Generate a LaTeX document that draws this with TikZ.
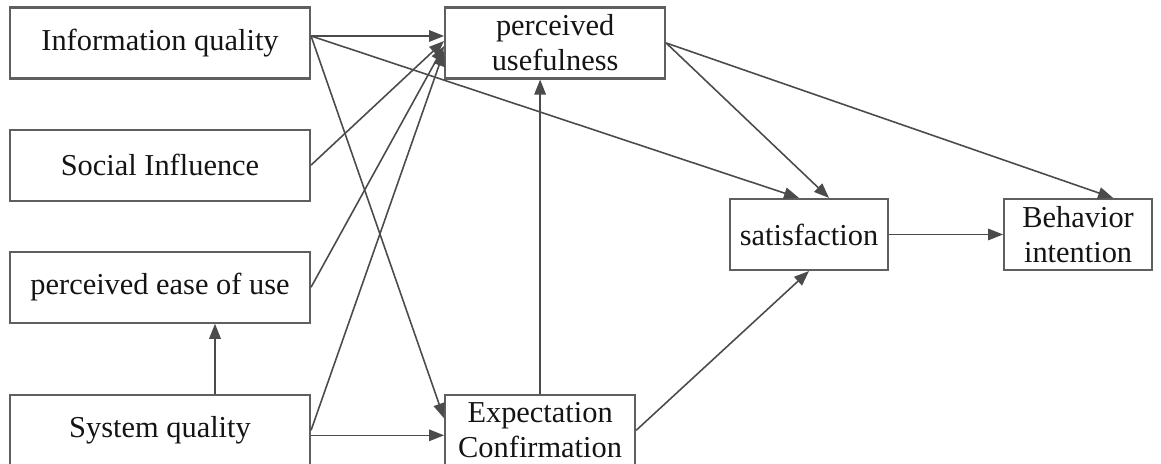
\documentclass[tikz,border=0pt]{standalone}
\usepackage{fontspec}
\setmainfont{Liberation Serif}
\usepackage{tikz}
\usetikzlibrary{arrows.meta, positioning, calc}
\usepackage{xcolor}
\definecolor{frame}{RGB}{95,95,95}
\definecolor{link}{RGB}{75,75,75}
\definecolor{ink}{RGB}{20,20,20}

\begin{document}
\begin{tikzpicture}[
    node distance=1cm,
    box/.style={rectangle, minimum height=1.42cm, inner sep=2pt, align=center, text=ink, font=\fontsize{17.3}{20}\selectfont, draw=frame, line width=1.2pt},
    arr/.style={-{Triangle[length=3mm, width=2.3mm]}, line width=0.9pt, link},
]
\useasboundingbox (0,0) rectangle (23.22,9.28);

\node[box, minimum width=6cm] (iq) at (3.2,8.42) {Information quality};
\node[box, minimum width=6cm, below=0.98cm of iq] (si) {Social Influence};
\node[box, minimum width=6cm, below=0.98cm of si] (peou) {perceived ease of use};
\node[box, minimum width=6cm, below=1.40cm of peou] (sq) {System quality};
\node[box, minimum width=4.4cm, right=2.66cm of iq] (pu) {perceived\\usefulness};
\node[box, minimum width=3.8cm, right=2.66cm of sq] (ec) {Expectation\\Confirmation};
\node[box, minimum width=3.16cm] (sat) at (16.18,4.59) {satisfaction};
\node[box, minimum width=2.96cm, right=2.28cm of sat] (bi) {Behavior\\intention};

\coordinate (iqout) at ($(iq.east)+(0,0.14)$);

\draw[arr] (iqout) -- (iqout -| pu.west);
\draw[arr] (iqout) -- ([xshift=-2mm]sat.north);
\draw[arr] (iqout) -- ([yshift=2.4mm]ec.west);
\draw[arr] (si.east) -- ([yshift=0.4mm]pu.west);
\draw[arr] (peou.east) -- ([yshift=-0.6mm]pu.west);
\draw[arr] (sq.east) -- ([yshift=-1.6mm]pu.west);
\draw[arr] ([yshift=-1mm]sq.east) -- ([yshift=-1mm]ec.west);
\draw[arr] ([xshift=11mm]sq.north) -- ([xshift=11mm]peou.south);
\draw[arr] (ec.north) -- (ec.north |- pu.south);
\draw[arr] (ec.east) -- (sat.south);
\draw[arr] (pu.east) -- ([xshift=4mm]sat.north);
\draw[arr] (pu.east) -- ([xshift=7mm]bi.north);
\draw[arr] (sat.east) -- (bi.west);

\end{tikzpicture}
\end{document}
